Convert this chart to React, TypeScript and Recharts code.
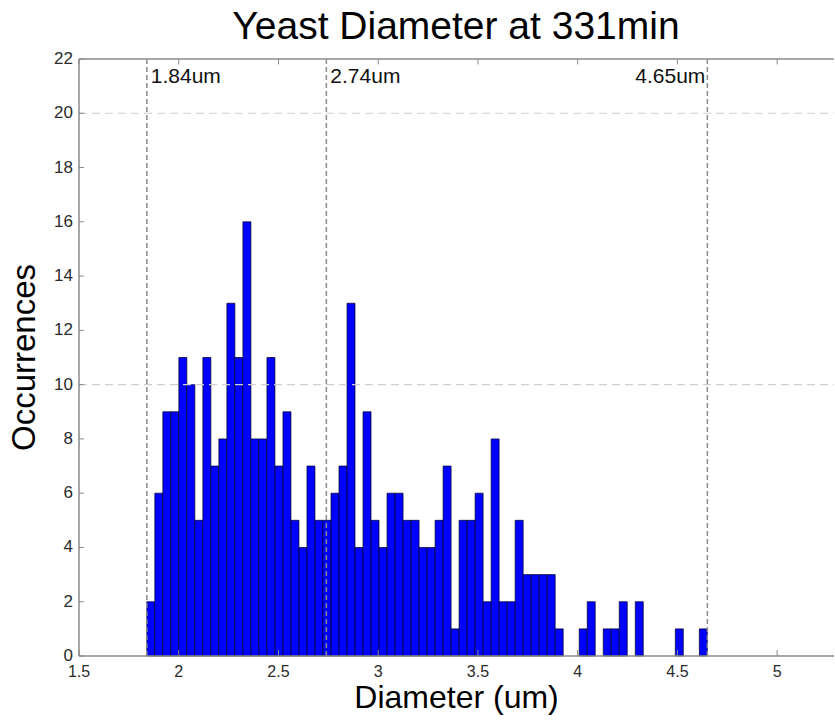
import React from 'react';
import { ComposedChart, Bar, XAxis, YAxis, ReferenceLine, Label } from 'recharts';

// Histogram bin edges and counts per bin
const BIN_START = 1.84;
const BIN_END = 4.65;
const COUNTS = [
  2, 6, 9, 9, 11, 10, 5, 11, 7, 8, 13, 11, 16, 8, 8, 11, 7, 9,
  5, 4, 7, 5, 5, 6, 7, 13, 4, 9, 5, 4, 6, 6, 5, 5, 4, 4, 5,
  7, 1, 5, 5, 6, 2, 8, 2, 2, 5, 3, 3, 3, 3, 1, 0, 0, 1, 2,
  0, 1, 1, 2, 0, 2, 0, 0, 0, 0, 1, 0, 0, 1,
];

const X_TICKS = [1.5, 2, 2.5, 3, 3.5, 4, 4.5, 5];
const Y_TICKS = [0, 2, 4, 6, 8, 10, 12, 14, 16, 18, 20, 22];
const X_DOMAIN = [1.5, 5.285];
const Y_DOMAIN = [0, 22];
const MARKERS = [
  { x: 1.84, label: '1.84um', anchor: 'start' },
  { x: 2.74, label: '2.74um', anchor: 'start' },
  { x: 4.65, label: '4.65um', anchor: 'end' },
];
const GRID_Y = [10, 20];

const TITLE = 'Yeast Diameter at 331min';
const X_LABEL = 'Diameter (um)';
const Y_LABEL = 'Occurrences';

const BIN_WIDTH = (BIN_END - BIN_START) / COUNTS.length;
const data = COUNTS.map((count, i) => ({
  center: BIN_START + (i + 0.5) * BIN_WIDTH,
  count,
}));

const FONT = '"Liberation Sans", Arial, Helvetica, sans-serif';
const AXIS_COLOR = '#8a8a8a';
const TICK_TEXT = '#2b2b2b';

const BottomTick = (props: any) => {
  const { x, y, payload } = props;
  return (
    <g>
      <line x1={x} x2={x} y1={y} y2={y - 6} stroke={AXIS_COLOR} strokeWidth={1} />
      <text x={x} y={y + 21} textAnchor="middle" fontSize={16} fill={TICK_TEXT} fontFamily={FONT}>
        {String(payload.value)}
      </text>
    </g>
  );
};

const LeftTick = (props: any) => {
  const { x, y, payload } = props;
  return (
    <g>
      <line x1={x} x2={x + 5} y1={y} y2={y} stroke={AXIS_COLOR} strokeWidth={1} />
      <text x={x - 6} y={y + 5} textAnchor="end" fontSize={17} fill={TICK_TEXT} fontFamily={FONT}>
        {String(payload.value)}
      </text>
    </g>
  );
};

const RightTick = (props: any) => {
  const { x, y } = props;
  return <line x1={x} x2={x - 5} y1={y} y2={y} stroke={AXIS_COLOR} strokeWidth={1} />;
};

const markerLabel = (text: string, anchor: string) => (props: any) => {
  const vb = props.viewBox || {};
  const x = anchor === 'start' ? vb.x + 4 : vb.x - 2;
  return (
    <text x={x} y={vb.y + 24} textAnchor={anchor} fontSize={21} fill="#111" fontFamily={FONT}>
      {text}
    </text>
  );
};

export default function App() {
  return (
    <div style={{ position: 'absolute', left: 0, top: 0, width: 835, height: 725, background: '#fff' }}>
      <ComposedChart
        width={835}
        height={725}
        data={data}
        margin={{ top: 59, right: 1, bottom: 0, left: 0 }}
        barCategoryGap={0}
        barGap={0}
      >
        <XAxis
          dataKey="center"
          type="number"
          domain={X_DOMAIN}
          ticks={X_TICKS}
          allowDataOverflow
          height={69}
          tickSize={0}
          tickMargin={0}
          tickLine={false}
          tick={<BottomTick />}
          stroke={AXIS_COLOR}
          strokeWidth={1.5}
          interval={0}
        >
          <Label
            content={(p: any) => {
              const vb = p.viewBox;
              return (
                <text x={vb.x + vb.width / 2} y={vb.y + 52} textAnchor="middle" fontSize={32} fill="#000" fontFamily={FONT}>
                  {X_LABEL}
                </text>
              );
            }}
          />
        </XAxis>
        <YAxis
          type="number"
          domain={Y_DOMAIN}
          ticks={Y_TICKS}
          width={79}
          tickSize={0}
          tickMargin={0}
          tickLine={false}
          tick={<LeftTick />}
          stroke={AXIS_COLOR}
          strokeWidth={1.5}
          interval={0}
        >
          <Label
            content={(p: any) => {
              const vb = p.viewBox;
              const cx = vb.x + 35;
              const cy = vb.y + vb.height / 2;
              return (
                <text
                  x={cx}
                  y={cy}
                  textAnchor="middle"
                  fontSize={33}
                  fill="#000"
                  fontFamily={FONT}
                  transform={`rotate(-90, ${cx}, ${cy})`}
                >
                  {Y_LABEL}
                </text>
              );
            }}
          />
        </YAxis>
        <YAxis
          yAxisId="right"
          orientation="right"
          type="number"
          domain={Y_DOMAIN}
          ticks={Y_TICKS}
          width={0}
          tickSize={0}
          tickMargin={0}
          tickLine={false}
          tick={<RightTick />}
          stroke={AXIS_COLOR}
          strokeWidth={1.5}
          interval={0}
        />
        <Bar
          dataKey="count"
          fill="#0000ff"
          stroke="#000020"
          strokeWidth={0.7}
          isAnimationActive={false}
        />
        <ReferenceLine y={22} stroke={AXIS_COLOR} strokeWidth={1.5} />
        {X_TICKS.map((t) => (
          <ReferenceLine
            key={`t${t}`}
            segment={[{ x: t, y: 22 }, { x: t, y: 21.8 }]}
            stroke={AXIS_COLOR}
            strokeWidth={1}
          />
        ))}
        {GRID_Y.map((v) => (
          <ReferenceLine key={`g${v}`} y={v} stroke="#cfcfcf" strokeDasharray="8 5" strokeWidth={1.2} />
        ))}
        {MARKERS.map((m) => (
          <ReferenceLine
            key={m.label}
            x={m.x}
            stroke="#8c8c8c"
            strokeDasharray="5 3"
            strokeWidth={1.5}
            label={markerLabel(m.label, m.anchor)}
          />
        ))}
      </ComposedChart>
      <svg
        width={835}
        height={58}
        style={{ position: 'absolute', left: 0, top: 0, pointerEvents: 'none' }}
      >
        <text x={456} y={39} textAnchor="middle" fontSize={39} fill="#000" fontFamily={FONT}>
          {TITLE}
        </text>
      </svg>
    </div>
  );
}
